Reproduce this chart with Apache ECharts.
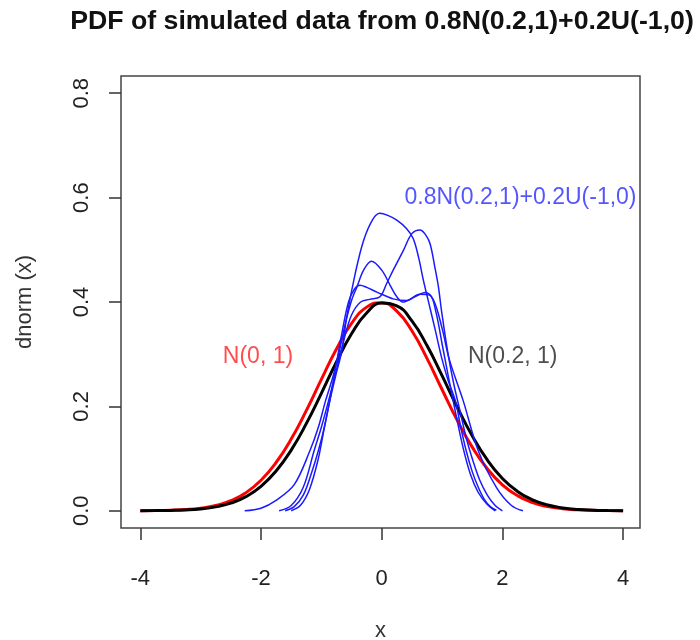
<!DOCTYPE html>
<html>
<head>
<meta charset="utf-8">
<script src="https://cdn.jsdelivr.net/npm/echarts@6/dist/echarts.min.js"></script>
<style>html,body{margin:0;padding:0;background:#fff}#c{width:700px;height:640px}</style>
</head>
<body>
<div id="c"></div>
<script>
// ---- data ----
const titleText = 'PDF of simulated data from 0.8N(0.2,1)+0.2U(-1,0)';
const xTicks = [-4, -2, 0, 2, 4];
const yTicks = [0, 0.2, 0.4, 0.6, 0.8];
const gridX = [-4,-3.75,-3.5,-3.25,-3,-2.75,-2.5,-2.25,-2,-1.75,-1.5,-1.25,-1,-0.75,-0.5,-0.25,0,0.25,0.5,0.75,1,1.25,1.5,1.75,2,2.25,2.5,2.75,3,3.25,3.5,3.75,4];
const redY = [0.0002,0.0004,0.0010,0.0023,0.0050,0.0101,0.0194,0.0347,0.0584,0.0925,0.1374,0.1918,0.2516,0.3100,0.3589,0.3902,0.3986,0.3825,0.3448,0.2920,0.2323,0.1736,0.1219,0.0804,0.0498,0.0290,0.0158,0.0081,0.0039,0.0018,0.0008,0.0003,0.0001];
const blackY = [0.0001,0.0003,0.0007,0.0016,0.0036,0.0075,0.0147,0.0270,0.0468,0.0761,0.1163,0.1669,0.2251,0.2850,0.3391,0.3789,0.3980,0.3925,0.3637,0.3166,0.2589,0.1989,0.1435,0.0973,0.0620,0.0371,0.0208,0.0110,0.0055,0.0025,0.0011,0.0005,0.0002];
const blueA = [[-1.6,0],[-1.45,0.008],[-1.3,0.03],[-1.17,0.07],[-1.05,0.115],[-0.95,0.16],[-0.86,0.211],[-0.76,0.26],[-0.66,0.307],[-0.58,0.371],[-0.44,0.454],[-0.30,0.518],[-0.15,0.558],[-0.03,0.570],[0.1,0.566],[0.25,0.557],[0.41,0.541],[0.52,0.522],[0.61,0.486],[0.69,0.442],[0.77,0.403],[0.88,0.35],[1.0,0.29],[1.1,0.25],[1.22,0.211],[1.31,0.16],[1.40,0.115],[1.5,0.075],[1.6,0.045],[1.7,0.022],[1.8,0.008],[1.9,0.001]];
const blueB = [[-1.7,0],[-1.5,0.01],[-1.3,0.045],[-1.12,0.115],[-1.0,0.16],[-0.88,0.211],[-0.75,0.27],[-0.62,0.33],[-0.5,0.375],[-0.35,0.40],[-0.2,0.405],[-0.03,0.41],[0.08,0.435],[0.19,0.461],[0.36,0.499],[0.5,0.531],[0.635,0.538],[0.72,0.53],[0.80,0.512],[0.88,0.467],[0.94,0.429],[0.99,0.384],[1.1,0.30],[1.2,0.24],[1.3,0.19],[1.4,0.14],[1.5,0.10],[1.62,0.06],[1.75,0.03],[1.88,0.01],[2.0,0]];
const blueC = [[-2.27,0],[-2.0,0.005],[-1.75,0.02],[-1.45,0.05],[-1.19,0.115],[-1.05,0.16],[-0.93,0.211],[-0.8,0.26],[-0.7,0.307],[-0.6,0.36],[-0.5,0.403],[-0.41,0.429],[-0.30,0.461],[-0.17,0.478],[0.0,0.461],[0.14,0.432],[0.25,0.41],[0.35,0.40],[0.55,0.41],[0.72,0.418],[0.86,0.403],[1.0,0.35],[1.12,0.29],[1.35,0.211],[1.6,0.115],[1.9,0.045],[2.15,0.01],[2.34,0]];
const blueD = [[-1.5,0],[-1.35,0.01],[-1.2,0.04],[-1.05,0.10],[-0.95,0.16],[-0.86,0.211],[-0.77,0.27],[-0.66,0.34],[-0.55,0.40],[-0.45,0.425],[-0.36,0.432],[-0.25,0.428],[-0.08,0.419],[0.19,0.406],[0.41,0.403],[0.63,0.415],[0.80,0.413],[0.9,0.38],[1.0,0.32],[1.1,0.26],[1.22,0.19],[1.35,0.12],[1.47,0.07],[1.6,0.035],[1.75,0.012],[1.88,0]];
const noteText = ['N(0, 1)', 'N(0.2, 1)', '0.8N(0.2,1)+0.2U(-1,0)'];
const noteX = [-2.05, 2.17, 2.3];
const noteY = [0.295, 0.295, 0.6];
const noteColor = ['#ff2020', '#222222', '#2a2aff'];

const FONT = 'Liberation Sans, Arial, sans-serif';
const zip = (xs, ys) => xs.map((x, i) => [x, ys[i]]);

const chart = echarts.init(document.getElementById('c'), null, {renderer: 'canvas'});
const blueStyle = {color: '#1a1aff', width: 1.5};
function blueSeries(d) {
  return {type: 'line', data: d, smooth: 0.35, showSymbol: false, symbol: 'none', lineStyle: blueStyle, z: 3, animation: false};
}
chart.setOption({
  animation: false,
  backgroundColor: '#ffffff',
  title: {
    text: titleText, left: 377, top: 3, textAlign: 'center',
    textStyle: {fontFamily: FONT, fontSize: 26.7, fontWeight: 'bold', color: '#111'}
  },
  grid: {left: 121, right: 60, top: 76, bottom: 112, show: true, borderColor: '#444', borderWidth: 1.5, backgroundColor: 'transparent', containLabel: false, outerBoundsMode: 'none'},
  xAxis: {
    type: 'value', min: -4.32, max: 4.28,
    name: 'x', nameLocation: 'middle', nameGap: 92,
    nameTextStyle: {fontFamily: FONT, fontSize: 22, color: '#333'},
    axisLine: {show: false, onZero: false},
    axisTick: {show: true, length: 12, customValues: xTicks, lineStyle: {color: '#333', width: 1.5}},
    axisLabel: {customValues: xTicks, margin: 40, fontFamily: FONT, fontSize: 22, color: '#222', formatter: v => String(v)},
    splitLine: {show: false}
  },
  yAxis: {
    type: 'value', min: -0.033, max: 0.833,
    name: 'dnorm (x)', nameLocation: 'middle', nameGap: 85, nameRotate: 90,
    nameTextStyle: {fontFamily: FONT, fontSize: 22, color: '#333'},
    axisLine: {show: false, onZero: false},
    axisTick: {show: true, length: 12, customValues: yTicks, lineStyle: {color: '#333', width: 1.5}},
    axisLabel: {customValues: yTicks, rotate: 90, margin: 28, fontFamily: FONT, fontSize: 22, color: '#222', formatter: v => v.toFixed(1)},
    splitLine: {show: false}
  },
  series: [
    {type: 'line', data: zip(gridX, redY), smooth: true, symbol: 'none', lineStyle: {color: '#ff0000', width: 3}, z: 2},
    {type: 'line', data: zip(gridX, blackY), smooth: true, symbol: 'none', lineStyle: {color: '#000000', width: 3}, z: 2},
    blueSeries(blueA), blueSeries(blueB), blueSeries(blueC), blueSeries(blueD),
    {
      type: 'scatter', symbolSize: 0, z: 5, silent: true,
      data: noteText.map((t, i) => ({
        value: [noteX[i], noteY[i]], name: t,
        label: {show: true, position: 'inside', formatter: t, color: noteColor[i], fontFamily: FONT, fontSize: 23}
      }))
    }
  ]
});
</script>
</body>
</html>
